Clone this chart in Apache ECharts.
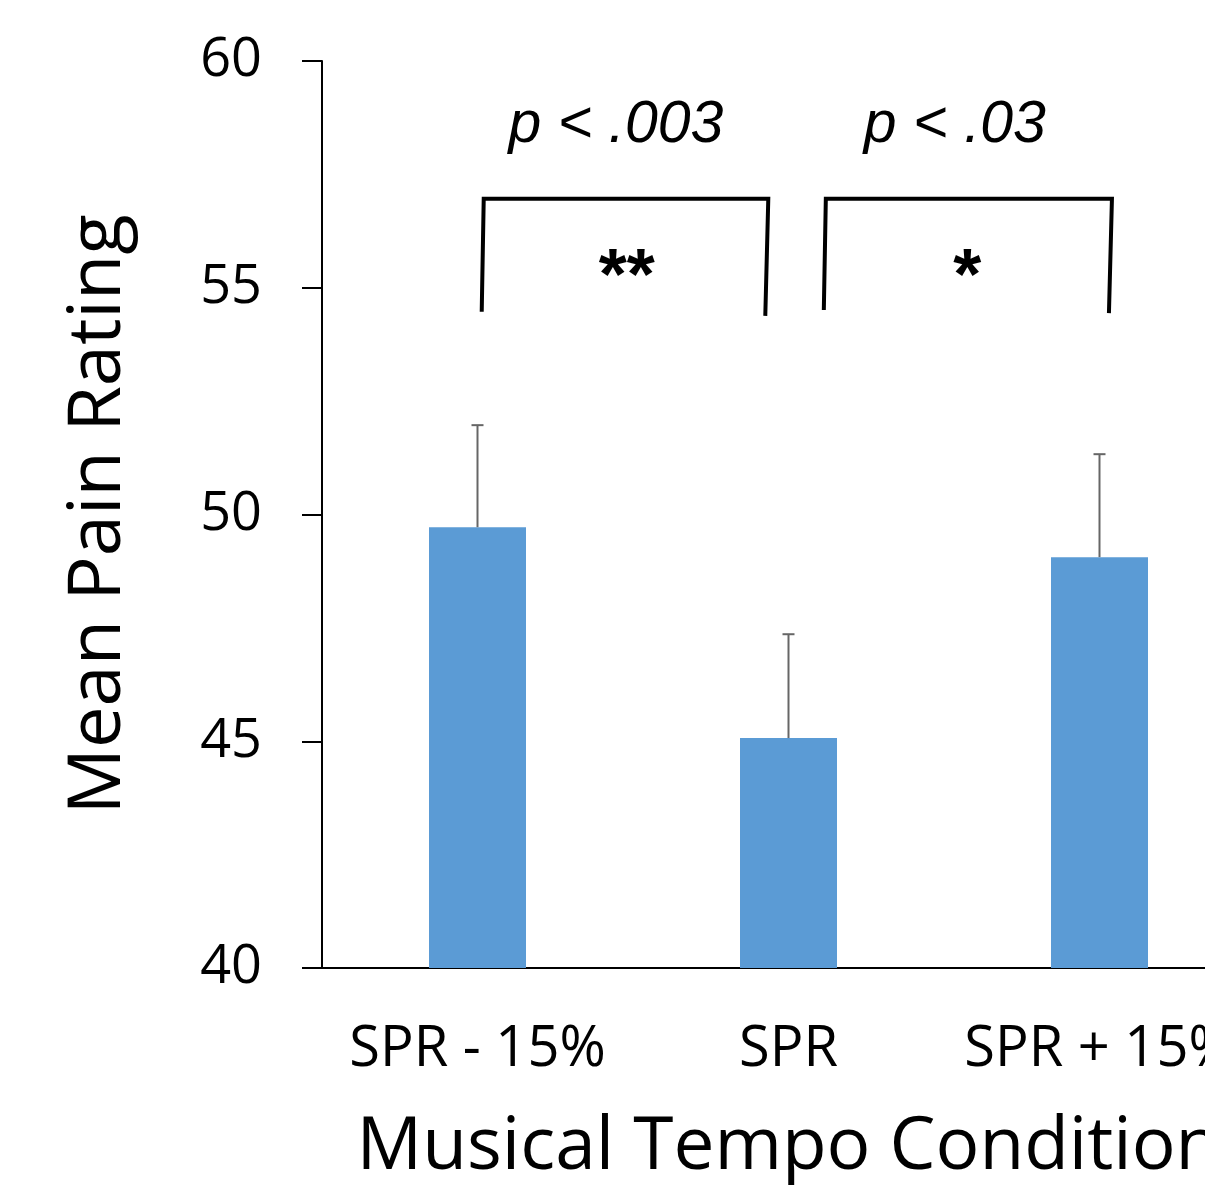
<!DOCTYPE html>
<html>
<head>
<meta charset="utf-8">
<script src="https://cdn.jsdelivr.net/npm/echarts@6/dist/echarts.min.js"></script>
<style>
  html, body { margin: 0; padding: 0; background: #fff; }
  #chart { width: 1205px; height: 1185px; }
</style>
</head>
<body>
<div id="chart"></div>
<script>
// values
const categories = ['SPR - 15%', 'SPR', 'SPR + 15%'];
const meanPain = [49.72, 45.07, 49.06];
const errorUpper = [51.97, 47.36, 51.33];
const yTicks = [40, 45, 50, 55, 60];

// brackets: [xStart, xEnd, yTop, yLeftFoot, yRightFoot]  (x in category index units)
const brackets = [
  [0.02, 0.935, 56.96, 54.47, 54.38],
  [1.12, 2.04, 56.96, 54.51, 54.44]
];
// annotation text: [x, y, text]
const pLabels = [[0.445, 58.58, 'p < .003'], [1.535, 58.58, 'p < .03']];
const stars = [[0.48, 55.2, '**'], [1.575, 55.2, '*']];

const chart = echarts.init(document.getElementById('chart'));

let option = {
  animation: false,
  // plot runs past the right edge of the picture, like the cropped original
  grid: { left: 322, top: 61, width: 933, bottom: 217, containLabel: false, outerBoundsMode: 'none' },
  xAxis: [
    {
      type: 'category',
      data: categories,
      axisLine: { lineStyle: { color: '#000', width: 2 } },
      axisTick: { show: false },
      axisLabel: { color: '#000', fontSize: 56, fontFamily: 'Open Sans', margin: 54, interval: 0, hideOverlap: false },
      name: 'Musical Tempo Condition',
      nameLocation: 'middle',
      nameGap: 144,
      nameTextStyle: { color: '#000', fontSize: 73, fontFamily: 'Open Sans' }
    },
    { type: 'value', min: -0.5, max: 2.5, show: false }
  ],
  yAxis: {
    type: 'value',
    min: yTicks[0],
    max: yTicks[yTicks.length - 1],
    interval: 5,
    splitLine: { show: false },
    axisLine: { show: true, onZero: false, lineStyle: { color: '#000', width: 2 } },
    axisTick: { show: true, length: 20, lineStyle: { color: '#000', width: 2 } },
    axisLabel: { color: '#000', fontSize: 54, fontFamily: 'Open Sans', margin: 60 },
    name: 'Mean Pain Rating',
    nameLocation: 'middle',
    nameGap: 186,
    nameTextStyle: { color: '#000', fontSize: 74, fontFamily: 'Open Sans' }
  },
  series: [
    {
      type: 'bar',
      data: meanPain,
      barWidth: 97,
      itemStyle: { color: '#5B9BD5' }
    },
    {
      // error bars, upper half only
      type: 'custom',
      data: meanPain.map((v, i) => [i, v, errorUpper[i]]),
      z: 3,
      renderItem: function (params, api) {
        let base = api.coord([api.value(0), api.value(1)]);
        let top = api.coord([api.value(0), api.value(2)]);
        return {
          type: 'group',
          children: [
            { type: 'line', shape: { x1: base[0], y1: base[1], x2: top[0], y2: top[1] },
              style: { stroke: '#666', lineWidth: 2 } },
            { type: 'line', shape: { x1: top[0] - 6, y1: top[1], x2: top[0] + 6, y2: top[1] },
              style: { stroke: '#666', lineWidth: 2 } }
          ]
        };
      }
    },
    {
      type: 'custom',
      xAxisIndex: 1,
      data: brackets,
      renderItem: function (params, api) {
        let tl = api.coord([api.value(0), api.value(2)]);
        let tr = api.coord([api.value(1), api.value(2)]);
        let bl = api.coord([api.value(0), api.value(3)]);
        let br = api.coord([api.value(1), api.value(4)]);
        return {
          type: 'polyline',
          shape: { points: [[bl[0] - 2, bl[1]], [tl[0], tl[1]], [tr[0], tr[1]], [br[0] - 3, br[1]]] },
          style: { stroke: '#000', lineWidth: 4, fill: null }
        };
      }
    },
    {
      type: 'custom',
      xAxisIndex: 1,
      data: pLabels,
      renderItem: function (params, api) {
        let p = api.coord([api.value(0), api.value(1)]);
        return {
          type: 'text',
          x: p[0], y: p[1],
          style: {
            text: pLabels[params.dataIndex][2],
            fontSize: 59, fontStyle: 'italic', fontFamily: 'Liberation Sans',
            fill: '#000', align: 'center', verticalAlign: 'middle'
          }
        };
      }
    },
    {
      type: 'custom',
      xAxisIndex: 1,
      data: stars,
      renderItem: function (params, api) {
        let p = api.coord([api.value(0), api.value(1)]);
        return {
          type: 'text',
          x: p[0], y: p[1],
          style: {
            text: stars[params.dataIndex][2],
            fontSize: 72, fontWeight: 'bold', fontFamily: 'Liberation Sans',
            fill: '#000', align: 'center', verticalAlign: 'middle'
          }
        };
      }
    }
  ]
};
chart.setOption(option);
</script>
</body>
</html>
